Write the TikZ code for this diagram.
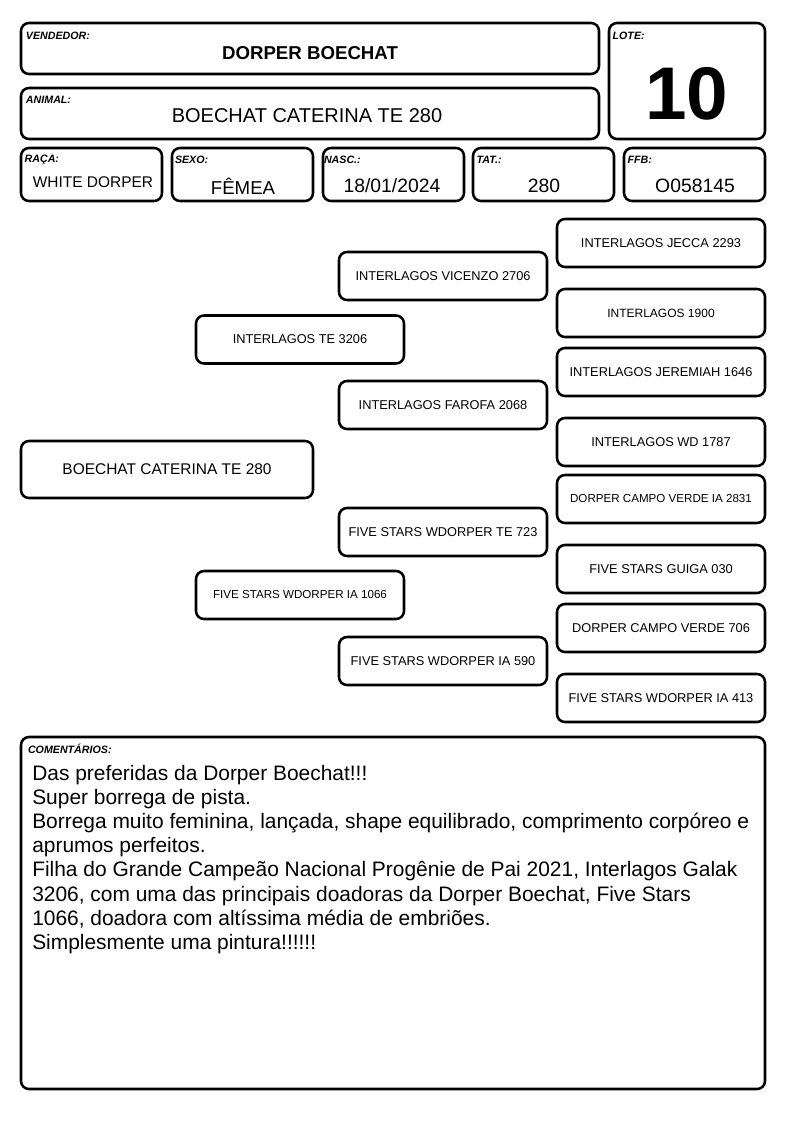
\documentclass[tikz,border=0pt]{standalone}
\usepackage{fontspec}
\setmainfont{Liberation Sans}
\usetikzlibrary{positioning}
\tikzstyle{card}=[draw,line width=1.9pt,rounded corners=6pt,inner sep=0pt]
\tikzstyle{fieldLabel}=[inner sep=0pt,font=\fontsize{8}{9}\selectfont\bfseries\itshape]
\tikzstyle{fieldValue}=[inner sep=0pt,font=\fontsize{14.5}{16}\selectfont]
\tikzstyle{infoBox}=[card,minimum width=105.75pt,minimum height=39.75pt]
\tikzstyle{pedNode}=[card,minimum width=156pt,minimum height=36pt,font=\fontsize{9.6}{11}\selectfont]
\tikzstyle{pedSmall}=[font=\fontsize{8.7}{10}\selectfont]

\begin{document}
\begin{tikzpicture}[x=0.75pt,y=-0.75pt]
        \useasboundingbox (0,0) rectangle (794,1123);

        % header
        \node[card, minimum width=433.5pt, minimum height=38.25pt] (vend) at (310, 48.5) {};
        \node[card, minimum width=433.5pt, minimum height=38.25pt] (anim) at (310, 113.5) {};
        \node[card, minimum width=117pt, minimum height=87pt] (lote) at (687, 81) {};

        \node[fieldLabel, below right=7.2pt and 4.5pt of vend.north west] (vendL) {VENDEDOR:};
        \node[fieldLabel, below right=7pt and 4.5pt of anim.north west] (animL) {ANIMAL:};
        \node[fieldLabel, below right=7.2pt and 3.5pt of lote.north west] (loteL) {LOTE:};

        \node[fieldValue, font=\fontsize{14}{16}\selectfont\bfseries] (vendV) at (310, 53) {DORPER BOECHAT};
        \node[fieldValue, font=\fontsize{15}{17}\selectfont] (animV) at (307, 116) {BOECHAT CATERINA TE 280};
        \node[inner sep=0pt, font=\fontsize{56}{60}\selectfont\bfseries] (loteV) at (687, 94) {10};

        \node[infoBox] (raca) at (91.5, 174.5) {};
        \node[infoBox] (sexo) at (242.5, 174.5) {};
        \node[infoBox] (nasc) at (393.5, 174.5) {};
        \node[infoBox] (tat) at (543.5, 174.5) {};
        \node[infoBox] (ffb) at (694.5, 174.5) {};

        \node[fieldLabel, below right=6pt and 3.5pt of raca.north west] (racaL) {RAÇA:};
        \node[fieldLabel, below right=6.6pt and 3pt of sexo.north west] (sexoL) {SEXO:};
        \node[fieldLabel, below right=6.6pt and 1.5pt of nasc.north west] (nascL) {NASC.:};
        \node[fieldLabel, below right=6.6pt and 3.5pt of tat.north west] (tatL) {TAT.:};
        \node[fieldLabel, below right=6.6pt and 3.5pt of ffb.north west] (ffbL) {FFB:};

        \node[fieldValue, font=\fontsize{11.6}{13}\selectfont] (racaV) at (93, 182) {WHITE DORPER};
        \node[fieldValue, font=\fontsize{14}{16}\selectfont] (sexoV) at (243, 186) {FÊMEA};
        \node[fieldValue] (nascV) at (392, 186) {18/01/2024};
        \node[fieldValue] (tatV) at (544, 186) {280};
        \node[fieldValue] (ffbV) at (695, 186) {O058145};

        % pedigree
        \node[pedNode, minimum width=219pt, minimum height=42.75pt, font=\fontsize{11.6}{13}\selectfont] (p0) at (167, 469.5) {BOECHAT CATERINA TE 280};

        \node[pedNode] (s) at (300, 339.5) {INTERLAGOS TE 3206};
        \node[pedNode, pedSmall] (d) at (300, 595) {FIVE STARS WDORPER IA 1066};

        \node[pedNode] (ss) at (443, 276) {INTERLAGOS VICENZO 2706};
        \node[pedNode] (sd) at (443, 405) {INTERLAGOS FAROFA 2068};
        \node[pedNode] (ds) at (443, 532) {FIVE STARS WDORPER TE 723};
        \node[pedNode] (dd) at (443, 661) {FIVE STARS WDORPER IA 590};

        \node[pedNode] (sss) at (661, 243) {INTERLAGOS JECCA 2293};
        \node[pedNode, font=\fontsize{9}{11}\selectfont] (ssd) at (661, 313) {INTERLAGOS 1900};
        \node[pedNode] (sds) at (661, 372) {INTERLAGOS JEREMIAH 1646};
        \node[pedNode] (sdd) at (661, 442) {INTERLAGOS WD 1787};
        \node[pedNode, pedSmall] (dss) at (661, 499) {DORPER CAMPO VERDE IA 2831};
        \node[pedNode] (dsd) at (661, 569) {FIVE STARS GUIGA 030};
        \node[pedNode] (dds) at (661, 628) {DORPER CAMPO VERDE 706};
        \node[pedNode] (ddd) at (661, 698) {FIVE STARS WDORPER IA 413};

        % comments
        \node[card, minimum width=558pt, minimum height=264pt] (obs) at (393, 913) {};
        \node[fieldLabel, below right=6.3pt and 6pt of obs.north west] (obsL) {COMENTÁRIOS:};
        \node[anchor=north west, inner sep=0pt, align=left, font=\fontsize{15.7}{18.1}\selectfont] (obsV) at (32, 765)
            {Das preferidas da Dorper Boechat!!!\\
             Super borrega de pista.\\
             Borrega muito feminina, lançada, shape equilibrado, comprimento corpóreo e\\
             aprumos perfeitos.\\
             Filha do Grande Campeão Nacional Progênie de Pai 2021, Interlagos Galak\\
             3206, com uma das principais doadoras da Dorper Boechat, Five Stars\\
             1066, doadora com altíssima média de embriões.\\
             Simplesmente uma pintura!!!!!!};

\end{tikzpicture}
\end{document}
